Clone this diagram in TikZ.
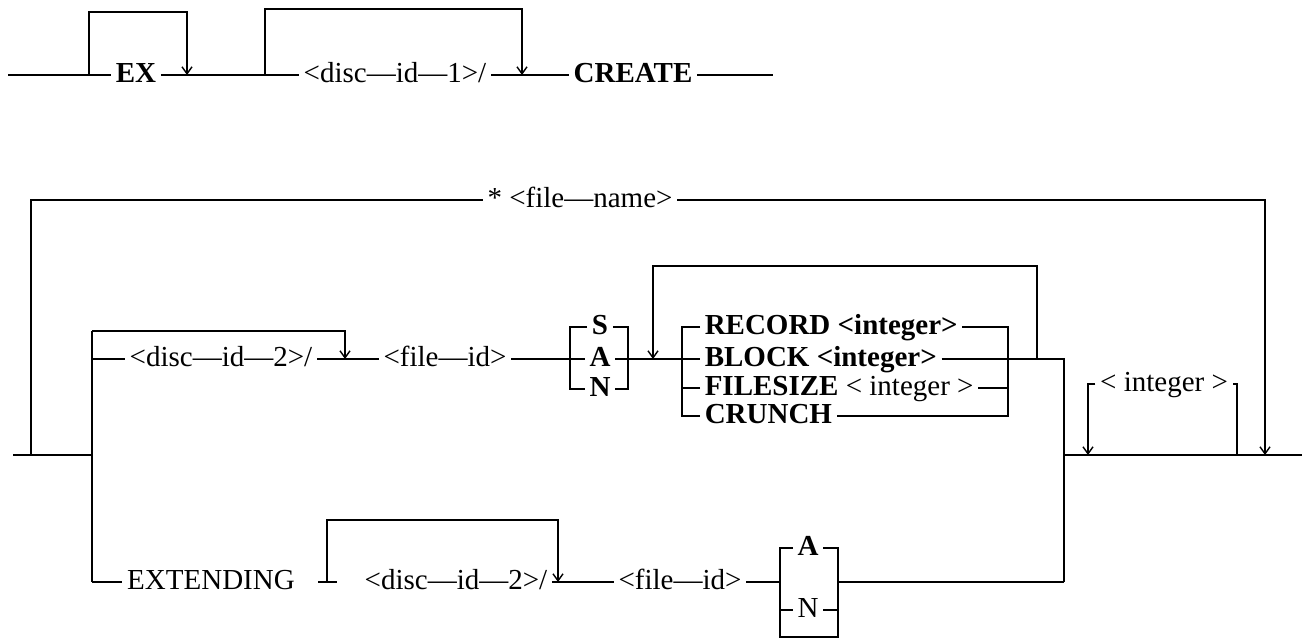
\documentclass[tikz,border=0pt]{standalone}
\usepackage{fontspec}
\setmainfont{Liberation Serif}
\usetikzlibrary{arrows.meta}
\begin{document}
\begin{tikzpicture}[x=1pt,y=-1pt,
  line width=1.5pt,
  lbl/.style={anchor=center,inner xsep=4pt,inner ysep=0pt,text height=21pt,text depth=7pt,font=\fontsize{29}{34}\selectfont},
  kw/.style={lbl,font=\fontsize{29}{34}\selectfont\bfseries},
  arr/.style={-{Straight Barb[length=7pt,width=10pt,line width=1.4pt]}},
]
\useasboundingbox (0,0) rectangle (1302,642);

% ---------- top row ----------
\coordinate (s0) at (8,75);
\coordinate (exL) at (89,75);
\coordinate (exT) at (89,12);
\coordinate (exR) at (187,75);
\coordinate (d1L) at (265,75);
\coordinate (d1T) at (265,9);
\coordinate (d1R) at (522,75);
\coordinate (e0) at (773,75);
\node[kw] (ex) at (136,75) {EX};
\node[lbl] (d1) at (395,75) {<disc—id—1>/};
\node[kw] (cr) at (633,75) {CREATE};
\draw (s0) -- (ex.west);
\draw (ex.east) -- (d1.west);
\draw (d1.east) -- (cr.west);
\draw (cr.east) -- (e0);
\draw[arr] (exL) -- (exT) -| (exR);
\draw[arr] (d1L) -- (d1T) -| (d1R);

% ---------- main entry ----------
\coordinate (m0) at (13,455);
\coordinate (j1) at (31,455);
\coordinate (j1T) at (31,200);
\coordinate (j2) at (92,455);
\coordinate (j2T) at (92,331);
\coordinate (j2B) at (92,582);
\coordinate (rT) at (1265,200);
\coordinate (rB) at (1265,455);
\draw (m0) -- (j2);
\node[lbl] (fn) at (580,200) {* <file—name>};
\draw (j1) -- (j1T) -- (fn.west);
\draw[arr] (fn.east) -- (rT) -- (rB);
\draw (j2T) -- (j2B);

% ---------- disc-id-2 row ----------
\coordinate (d2a) at (92,359);
\coordinate (d2T) at (345,331);
\coordinate (d2R) at (345,359);
\node[lbl] (d2) at (221,359) {<disc—id—2>/};
\node[lbl] (fid) at (445,359) {<file—id>};
\draw (d2a) -- (d2.west);
\draw (d2.east) -- (fid.west);
\draw[arr] (j2T) -- (d2T) -- (d2R);

% S A N bracket
\node[kw] (S) at (600,327) {S};
\node[kw] (A) at (600,359) {A};
\node[kw] (N) at (600,389) {N};
\coordinate (sanLT) at (570,327);
\coordinate (sanLB) at (570,389);
\coordinate (sanRT) at (628,327);
\coordinate (sanRB) at (628,389);
\draw (S.west) -- (sanLT) -- (sanLB) -- (N.west);
\draw (S.east) -- (sanRT) -- (sanRB) -- (N.east);
\draw (fid.east) -- (A.west);

% RECORD group
\node[kw,anchor=west] (rec) at (700,327) {RECORD <integer>};
\node[kw,anchor=west] (blk) at (700,359) {BLOCK <integer>};
\node[kw,anchor=west] (fsz) at (700,388) {FILESIZE \textmd{< integer >}};
\node[kw,anchor=west] (cru) at (700,416) {CRUNCH};
\coordinate (gLT) at (682,327);
\coordinate (gLF) at (682,388);
\coordinate (gLB) at (682,416);
\coordinate (gRT) at (1008,327);
\coordinate (gRF) at (1008,388);
\coordinate (gRB) at (1008,416);
\draw (A.east) -- (blk.west);
\draw (rec.west) -- (gLT) -- (gLB) -- (cru.west);
\draw (fsz.west) -- (gLF);
\draw (rec.east) -- (gRT) -- (gRB) -- (cru.east);
\draw (fsz.east) -- (gRF);

% repeat loop
\coordinate (lpB) at (1037,359);
\coordinate (lpT) at (1037,266);
\coordinate (lpA) at (653,359);
\draw[arr] (lpB) -- (lpT) -| (lpA);

% join and exit
\coordinate (jx) at (1064,359);
\coordinate (jxM) at (1064,455);
\coordinate (jxB) at (1064,582);
\coordinate (eEnd) at (1302,455);
\draw (blk.east) -- (jx) -- (jxB);
\draw (jxM) -- (eEnd);

% integer loop
\node[lbl] (int) at (1164,384) {< integer >};
\coordinate (iR) at (1237,384);
\coordinate (iRB) at (1237,455);
\coordinate (iL) at (1088,384);
\coordinate (iLB) at (1088,455);
\draw (iRB) -- (iR) -- (int.east);
\draw[arr] (int.west) -- (iL) -- (iLB);

% ---------- EXTENDING row ----------
\node[lbl] (ext) at (211,582) {EXTENDING};
\draw (j2B) -- (ext.west);
\coordinate (stA) at (318,582);
\coordinate (stB) at (337,582);
\coordinate (eb) at (327,582);
\coordinate (ebT) at (327,520);
\coordinate (ebR) at (558,582);
\draw (stA) -- (stB);
\node[lbl] (d3) at (456,582) {<disc—id—2>/};
\node[lbl] (fid2) at (680,582) {<file—id>};
\draw[arr] (eb) -- (ebT) -| (ebR);
\draw (d3.east) -- (fid2.west);

% A N bracket
\node[kw] (A2) at (808,548) {A};
\node[lbl] (N2) at (808,610) {N};
\coordinate (bLT) at (780,548);
\coordinate (bLM) at (780,582);
\coordinate (bLN) at (780,610);
\coordinate (bLB) at (780,637);
\coordinate (bRT) at (838,548);
\coordinate (bRM) at (838,582);
\coordinate (bRN) at (838,610);
\coordinate (bRB) at (838,637);
\draw (A2.west) -- (bLT) -- (bLB) -- (bRB) -- (bRT) -- (A2.east);
\draw (N2.west) -- (bLN);
\draw (N2.east) -- (bRN);
\draw (fid2.east) -- (bLM);
\draw (bRM) -- (jxB);
\end{tikzpicture}
\end{document}
